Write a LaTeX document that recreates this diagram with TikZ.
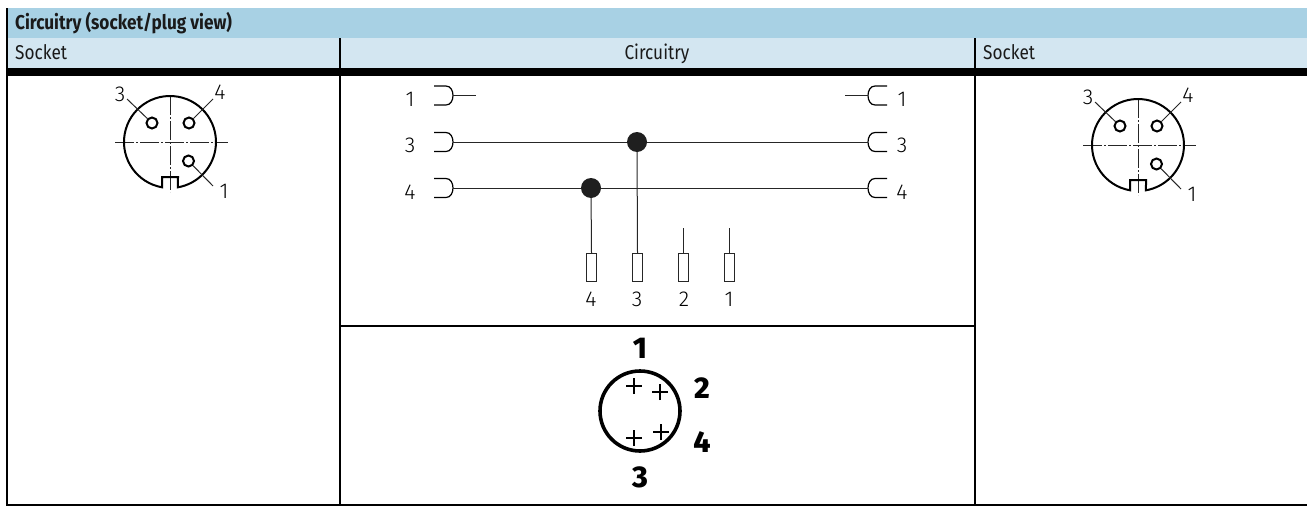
\documentclass[tikz,border=0pt]{standalone}
\usepackage{fontspec}
\setmainfont{Fira Sans}[FakeStretch=0.86]
\newfontfamily\isofont{Fira Sans Light}
\newfontfamily\heavyfont{Fira Sans ExtraBold}
\definecolor{bandA}{HTML}{A8D1E4}
\definecolor{bandB}{HTML}{D3E6F1}
\definecolor{inkdark}{HTML}{1A1A1A}
\tikzset{
  headtext/.style={anchor=base west,inner sep=0pt,text=inkdark,font=\fontsize{20}{22}\selectfont},
  isolabel/.style={inner sep=0pt,text=black,font=\isofont\fontsize{21.5}{21.5}\selectfont},
  heavylabel/.style={inner sep=0pt,text=black,font=\heavyfont\fontsize{30}{30}\selectfont},
  wire/.style={line width=1pt,black!85},
  outline/.style={line width=2pt,black},
  centreline/.style={line width=1pt,black!85,dash pattern=on 19pt off 2pt on 2pt off 2pt},
  pinring/.style={circle,draw=black,line width=2pt,inner sep=0pt,minimum size=11pt,fill=white},
  junction/.style={circle,fill=black!88,inner sep=0pt,minimum size=20pt},
  contactbox/.style={rectangle,draw=black!85,line width=1pt,inner sep=0pt,minimum width=10.5pt,minimum height=28pt,anchor=north,fill=white},
  connview/.pic={
    \draw[centreline] (-55,0) -- (58,0);
    \draw[centreline] (0,-46) -- (0,50);
    \draw[outline] (-8,45.3) arc[start angle=100,end angle=440,radius=46] -- (8,35) -- (-8,35) -- cycle;
    \coordinate (lead3) at (-43,-43);
    \coordinate (lead4) at (43,-43);
    \coordinate (lead1) at (43,44);
    \node[pinring] (pin3) at (-18,-19) {};
    \node[pinring] (pin4) at (19,-19) {};
    \node[pinring] (pin1) at (18.5,19) {};
    \draw[wire] (lead3) -- (pin3);
    \draw[wire] (lead4) -- (pin4);
    \draw[wire] (lead1) -- (pin1);
    \node[isolabel] (txt3) at (-50,-48) {3};
    \node[isolabel] (txt4) at (50,-50) {4};
    \node[isolabel] (txt1) at (54,49) {1};
  },
  plugsym/.pic={
    \coordinate (tail) at (19,0);
    \draw[line width=1.2pt,black] (0,-9.5) -- (12,-9.5) .. controls (16.5,-9.5) and (19,-5) .. (19,0) .. controls (19,5) and (16.5,9.5) .. (12,9.5) -- (0,9.5);
  },
  socksym/.pic={
    \coordinate (tail) at (0,0);
    \draw[line width=1.2pt,black] (19,-9.5) -- (7,-9.5) .. controls (2.5,-9.5) and (0,-5) .. (0,0) .. controls (0,5) and (2.5,9.5) .. (7,9.5) -- (19,9.5);
  },
  pluscross/.pic={
    \draw[line width=1.6pt,black] (-8,0) -- (8,0) (0,-8) -- (0,8);
  },
}
\begin{document}
\begin{tikzpicture}[x=1pt,y=1pt,yscale=-1]
\useasboundingbox (0,0) rectangle (1307,506);
% bands
\fill[bandA] (8,8) rectangle (1307,38);
\fill[bandB] (8,38) rectangle (1307,68);
\fill[black] (6,68) rectangle (1307,76);
% table rules
\fill[black] (6,8) rectangle (8,506);
\fill[black] (6,504) rectangle (1307,506);
\fill[black] (339,38) rectangle (341,504);
\fill[black] (974,38) rectangle (976,504);
\fill[black] (340,325) rectangle (975,327);
% header texts
\node[headtext] (title) at (15,29) {\bfseries Circuitry (socket/plug view)};
\node[headtext] (hsockl) at (15,59) {Socket};
\node[headtext,anchor=base] (hcirc) at (657,59) {Circuitry};
\node[headtext] (hsockr) at (983,59) {Socket};
% connector views
\pic[yscale=-1] (l) at (170,142) {connview};
\pic[yscale=-1] (r) at (1138,145) {connview};
% plug/socket symbols
\pic (pa) at (434,95.5) {plugsym};
\pic (pb) at (434,142) {plugsym};
\pic (pc) at (434,188) {plugsym};
\pic (sa) at (868,95.5) {socksym};
\pic (sb) at (868,142) {socksym};
\pic (sc) at (868,188) {socksym};
\node[isolabel] (la1) at (410,99) {1};
\node[isolabel] (la3) at (410,145) {3};
\node[isolabel] (la4) at (410,192) {4};
\node[isolabel] (ra1) at (902,99) {1};
\node[isolabel] (ra3) at (902,145) {3};
\node[isolabel] (ra4) at (902,192) {4};
% junctions & contacts
\node[contactbox] (b4) at (591.5,253) {};
\node[contactbox] (b3) at (637.5,253) {};
\node[contactbox] (b2) at (683.5,253) {};
\node[contactbox] (b1) at (729.5,253) {};
\node[junction] (j3) at (637,142) {};
\node[junction] (j4) at (591,188) {};
\coordinate (stub1a) at (476,95.5);
\coordinate (stub1b) at (845,95.5);
\coordinate (stub2) at (683.5,228);
\coordinate (stub1) at (729.5,228);
\draw[wire] (patail) -- (stub1a);
\draw[wire] (satail) -- (stub1b);
\draw[wire] (pbtail) -- (j3) -- (sbtail);
\draw[wire] (pctail) -- (j4) -- (sctail);
\draw[wire] (j3) -- (b3.north);
\draw[wire] (j4) -- (b4.north);
\draw[wire] (stub2) -- (b2.north);
\draw[wire] (stub1) -- (b1.north);
\node[isolabel] (lb4) at (591,299) {4};
\node[isolabel] (lb3) at (637,299) {3};
\node[isolabel] (lb2) at (684,299) {2};
\node[isolabel] (lb1) at (729,299) {1};
% pin diagram
\node[circle,draw=black,line width=3.6pt,minimum size=80pt,inner sep=0pt] (pinface) at (640,411) {};
\pic at (634,386) {pluscross};
\pic at (660,392) {pluscross};
\pic at (634,438) {pluscross};
\pic at (661,432) {pluscross};
\node[heavylabel] (h1) at (640,348) {1};
\node[heavylabel] (h2) at (702,388) {2};
\node[heavylabel] (h4) at (702,442) {4};
\node[heavylabel] (h3) at (640,477) {3};
\end{tikzpicture}
\end{document}
